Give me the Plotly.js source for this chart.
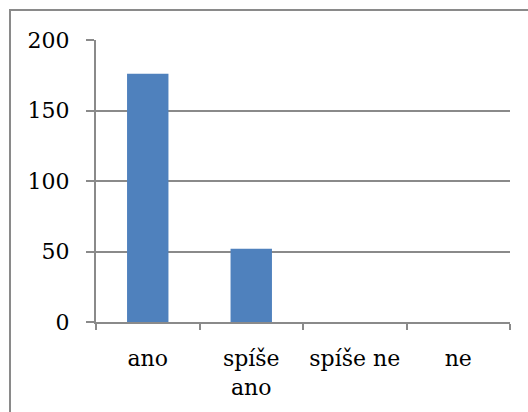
<!DOCTYPE html>
<html><head><meta charset="utf-8">
<script src="https://cdn.plot.ly/plotly-3.0.1.min.js"></script>
<style>html,body{margin:0;padding:0;background:#fff}#chart{width:528px;height:412px}</style>
</head><body><div id="chart"></div>
<script>
const categories = ["ano", "spíše ano", "spíše ne", "ne"];
const tickLabels = ["ano", "spíše<br>ano", "spíše ne", "ne"];
const values = [176, 52, 0, 0];
const yTicks = [0, 50, 100, 150, 200];

const L = 96, R = 18, T = 40, B = 90, W = 528, H = 412;
const pw = W - L - R, ph = H - T - B;
const fontFam = "DejaVu Serif, Liberation Serif, serif";
const gray = "#8a8a8a";

Plotly.newPlot("chart", [{
  type: "bar",
  x: categories,
  y: values,
  marker: {color: "#4f81bd", line: {width: 0}},
  hoverinfo: "skip"
}], {
  width: W, height: H,
  margin: {l: L, r: R, t: T, b: B, pad: 0},
  paper_bgcolor: "#fff", plot_bgcolor: "#fff",
  bargap: 0.6,
  showlegend: false,
  font: {family: fontFam, size: 22, color: "#000"},
  xaxis: {
    type: "category",
    tickmode: "array", tickvals: categories, ticktext: tickLabels,
    ticks: "outside", tickson: "boundaries", ticklen: 6, tickcolor: gray, tickwidth: 2,
    showline: true, linecolor: gray, linewidth: 2,
    showgrid: false, zeroline: false,
    tickfont: {family: fontFam, size: 22},
    ticklabelstandoff: 16
  },
  yaxis: {
    range: [0, 200], tickmode: "array", tickvals: yTicks,
    ticks: "outside", ticklen: 8, tickcolor: gray, tickwidth: 2,
    showline: true, linecolor: gray, linewidth: 2,
    showgrid: true, gridcolor: gray, gridwidth: 2,
    zeroline: false,
    tickfont: {family: fontFam, size: 22},
    ticklabelstandoff: 12
  },
  shapes: [{
    type: "rect", xref: "paper", yref: "paper",
    x0: (10 - L) / pw, x1: (540 - L) / pw,
    y0: (H - B - 430) / ph, y1: (H - B - 10) / ph,
    line: {color: gray, width: 2}, fillcolor: "rgba(0,0,0,0)", layer: "below"
  }]
}, {staticPlot: true});
</script></body></html>
